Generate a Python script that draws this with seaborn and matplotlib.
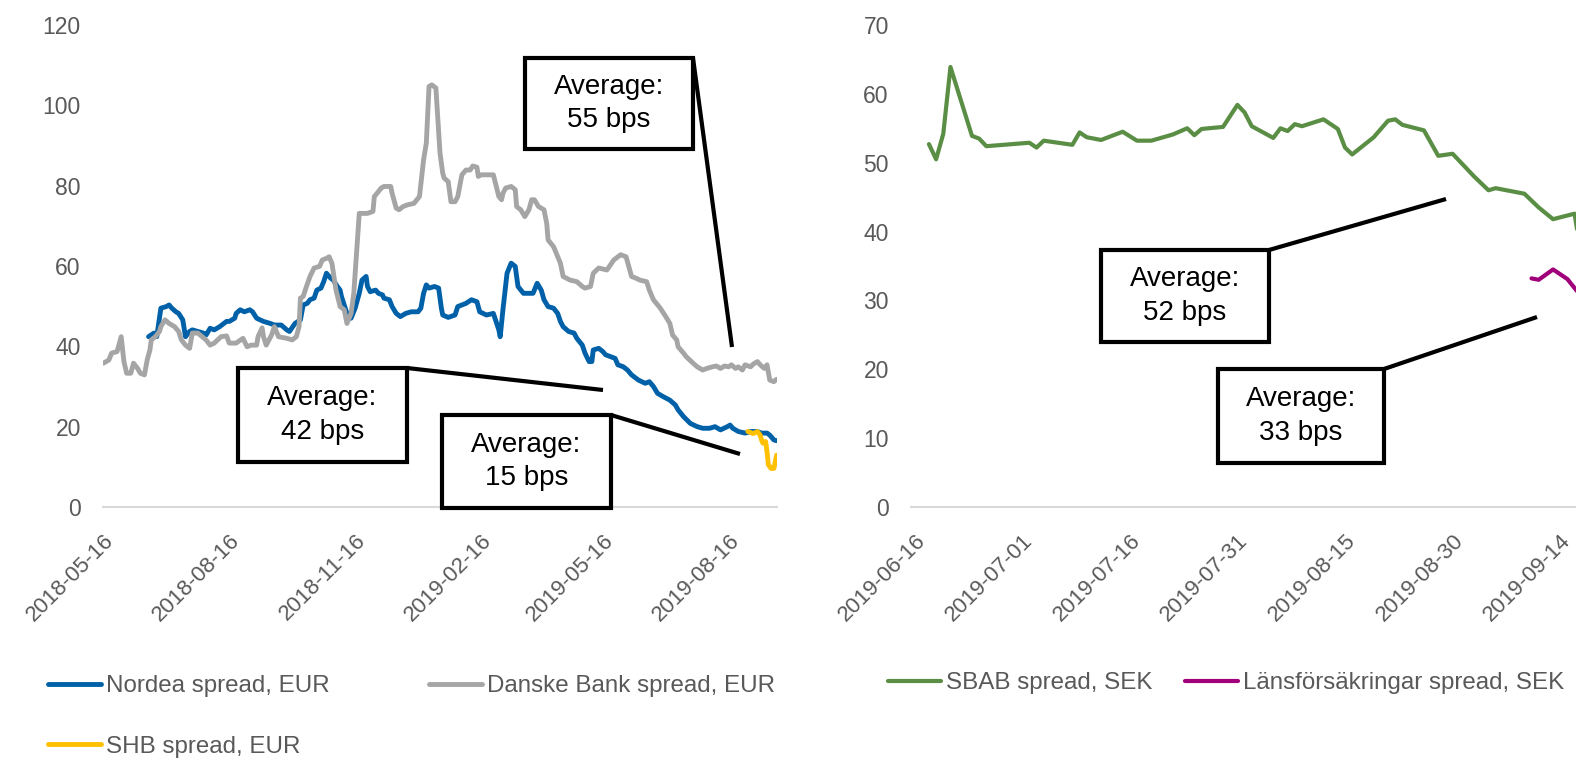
import pandas as pd
import matplotlib
matplotlib.use("Agg")
import matplotlib.pyplot as plt
import seaborn as sns
from matplotlib.patches import Rectangle
from matplotlib.lines import Line2D

# ---------------- data (left panel, days since 2018-05-16) ----------------
left_start = "2018-05-16"
nordea_day = [33, 37, 39, 42, 46, 48, 50, 53, 55, 58, 60, 63, 65, 69, 73, 75, 78, 81, 85, 90,
              92, 96, 97, 100, 103, 107, 109, 112, 117, 122, 125, 130, 134, 136, 140, 144, 146, 149, 151, 154,
              156, 159, 161, 163, 166, 168, 171, 173, 174, 178, 181, 184, 187, 189, 192, 193, 195, 199, 201, 204,
              205, 209, 211, 214, 217, 221, 225, 230, 232, 234, 236, 238, 242, 245, 247, 248, 252, 257, 259, 262,
              265, 269, 273, 275, 280, 285, 289, 290, 292, 295, 298, 301, 303, 307, 311, 314, 317, 320, 322, 325,
              329, 332, 334, 336, 340, 344, 346, 350, 352, 355, 357, 358, 362, 365, 367, 371, 374, 376, 380, 383,
              386, 391, 396, 399, 402, 405, 409, 414, 418, 420, 424, 429, 434, 438, 443, 447, 451, 456, 458, 460,
              464, 469, 473, 478, 481, 485, 487, 490, 492]
nordea_val = [42.4, 43.3, 42.4, 49.5, 49.9, 50.3, 49.5, 48.6, 48.2, 46.6, 42.4, 43.7, 44.1, 43.7, 43.3, 42.8, 44.5, 44.1, 44.9, 46.2,
              46.2, 47.0, 48.2, 49.1, 48.6, 49.1, 48.6, 47.0, 46.2, 45.7, 45.3, 45.3, 44.1, 43.7, 45.7, 46.6, 50.3, 50.7, 51.6, 52.0,
              54.0, 54.5, 56.1, 58.2, 57.0, 56.5, 54.9, 54.0, 52.4, 48.2, 47.0, 49.5, 53.2, 56.5, 57.4, 54.9, 53.6, 54.0, 53.2, 52.8,
              52.0, 51.6, 49.9, 48.2, 47.4, 48.2, 48.6, 48.6, 49.5, 53.2, 55.3, 54.5, 54.9, 54.5, 49.5, 47.8, 47.2, 47.8, 49.9, 50.3,
              50.7, 51.6, 51.1, 48.6, 47.8, 48.2, 44.1, 42.4, 49.1, 58.2, 60.7, 59.9, 54.9, 53.2, 53.2, 53.2, 55.7, 54.0, 51.6, 49.9,
              49.5, 48.2, 46.2, 44.9, 43.7, 43.3, 42.0, 40.3, 38.3, 36.2, 36.2, 39.1, 39.5, 38.7, 37.9, 37.4, 37.0, 35.4, 34.9, 34.1,
              32.9, 31.6, 30.8, 31.2, 30.0, 28.3, 27.5, 26.6, 25.4, 24.2, 22.5, 20.8, 20.0, 19.6, 19.6, 20.0, 19.2, 20.0, 20.4, 19.6,
              18.8, 18.4, 18.8, 18.8, 18.4, 18.4, 17.9, 16.7, 16.5]

danske_day = [0, 4, 6, 10, 13, 15, 17, 20, 22, 25, 27, 30, 32, 34, 35, 38, 41, 42, 45, 48,
              52, 55, 57, 60, 63, 65, 69, 75, 78, 81, 86, 90, 92, 97, 102, 105, 108, 112, 113, 116,
              117, 119, 123, 125, 128, 134, 138, 141, 143, 144, 146, 148, 151, 154, 158, 160, 163, 165, 167, 170,
              173, 176, 178, 181, 183, 187, 193, 197, 198, 200, 203, 205, 210, 211, 214, 216, 219, 222, 227, 231,
              234, 236, 238, 240, 243, 246, 248, 249, 252, 254, 257, 259, 262, 265, 268, 270, 273, 274, 276, 279,
              285, 289, 291, 292, 294, 298, 301, 302, 305, 308, 311, 313, 315, 318, 322, 324, 325, 329, 330, 334,
              336, 341, 346, 350, 352, 356, 358, 362, 368, 373, 376, 378, 382, 384, 386, 389, 392, 397, 399, 402,
              407, 411, 414, 416, 419, 420, 424, 426, 431, 434, 438, 441, 445, 448, 451, 454, 457, 459, 462, 464,
              467, 469, 473, 475, 478, 480, 483, 485, 487, 490, 492]
danske_val = [35.8, 36.6, 38.3, 38.7, 42.4, 36.2, 33.3, 33.3, 35.8, 34.5, 33.3, 32.9, 36.6, 39.1, 41.6, 42.4, 43.7, 44.9, 46.6, 45.7,
              44.9, 43.7, 41.6, 40.3, 39.5, 43.3, 43.3, 41.6, 40.3, 40.8, 42.4, 42.6, 40.8, 40.8, 42.0, 39.9, 40.3, 40.3, 42.4, 44.6,
              42.4, 40.3, 42.9, 44.9, 42.4, 42.0, 41.6, 42.4, 44.9, 52.0, 52.4, 54.5, 57.4, 59.5, 59.9, 61.5, 61.9, 62.3, 60.7, 54.0,
              49.9, 49.1, 45.7, 48.2, 53.2, 73.1, 73.1, 73.6, 77.3, 78.1, 79.4, 79.8, 79.8, 78.1, 74.4, 74.0, 74.8, 75.2, 75.6, 77.3,
              86.4, 90.6, 104.7, 105.1, 104.3, 88.1, 83.1, 81.9, 81.0, 76.0, 76.0, 77.3, 82.7, 83.9, 83.9, 84.9, 84.6, 82.3, 82.7, 82.7,
              82.7, 77.3, 76.5, 78.1, 79.4, 79.8, 79.0, 74.8, 74.0, 72.3, 74.0, 76.5, 76.5, 74.8, 74.0, 70.6, 66.5, 64.8, 64.0, 60.7,
              57.4, 56.5, 56.1, 54.9, 54.5, 54.9, 58.2, 59.5, 59.0, 61.5, 62.3, 62.8, 62.3, 59.9, 57.4, 57.0, 56.5, 56.1, 54.0, 51.6,
              49.5, 47.4, 45.7, 42.8, 41.6, 39.9, 38.3, 37.4, 35.8, 34.9, 34.1, 34.5, 34.9, 35.1, 34.5, 35.1, 34.9, 35.4, 34.5, 34.9,
              34.1, 35.4, 34.9, 35.6, 36.2, 35.4, 34.5, 35.4, 31.6, 31.2, 31.8]

shb_day = [471, 475, 478, 480, 481, 482, 484, 485, 486, 488, 490, 491, 492]
shb_val = [18.8, 18.3, 18.8, 17.9, 16.7, 15.9, 16.3, 13.8, 10.5, 9.6, 9.6, 11.2, 12.9]

left_ticks = ["2018-05-16", "2018-08-16", "2018-11-16", "2019-02-16", "2019-05-16", "2019-08-16"]

# ---------------- data (right panel, days since 2019-06-16) ----------------
right_start = "2019-06-16"
sbab_day = [2, 3, 4, 5, 8, 9, 10, 16, 17, 18, 22, 23, 24, 26, 29, 31, 33, 36, 38, 39,
            40, 43, 45, 46, 47, 50, 51, 52, 53, 54, 57, 59, 60, 61, 64, 66, 67, 68, 71, 73,
            75, 78, 80, 81, 85, 87, 89, 92, 93]
sbab_val = [52.7, 50.5, 54.2, 63.9, 53.9, 53.5, 52.4, 52.9, 52.2, 53.2, 52.6, 54.4, 53.7, 53.3, 54.5, 53.2, 53.2, 54.1, 55.0, 54.0,
            54.9, 55.2, 58.4, 57.3, 55.3, 53.6, 55.0, 54.6, 55.6, 55.3, 56.3, 54.9, 52.2, 51.2, 53.7, 56.1, 56.3, 55.5, 54.7, 51.0,
            51.3, 48.0, 46.0, 46.3, 45.5, 43.5, 41.8, 42.6, 36.0]
lf_day = [86, 87, 89, 91, 92, 93]
lf_val = [33.2, 33.0, 34.5, 33.1, 31.8, 30.5]

right_ticks = ["2019-06-16", "2019-07-01", "2019-07-16", "2019-07-31", "2019-08-15", "2019-08-30", "2019-09-14"]

left_labels = ["Nordea spread, EUR", "Danske Bank spread, EUR", "SHB spread, EUR"]
right_labels = ["SBAB spread, SEK", "Länsförsäkringar spread, SEK"]
avg_texts = ["Average:\n55 bps", "Average:\n42 bps", "Average:\n15 bps", "Average:\n52 bps", "Average:\n33 bps"]

# ---------------- style ----------------
C_NORDEA = "#0061A8"
C_DANSKE = "#A5A5A5"
C_SHB = "#FFC000"
C_SBAB = "#5A8E44"
C_LF = "#A0007A"
TXT = "#595959"

sns.set_theme(style="white")
plt.rcParams["font.family"] = ["Liberation Sans", "DejaVu Sans"]

W, H = 1576, 758
fig = plt.figure(figsize=(W / 100, H / 100), dpi=100)


def fx(x):
    return x / W


def fy(y):
    return 1 - y / H


axL = fig.add_axes([fx(103), fy(507), (777 - 103) / W, (507 - 25) / H])
axR = fig.add_axes([fx(911), fy(507), (1576 - 911) / W, (507 - 25) / H])


def dates(start, days):
    return pd.Timestamp(start) + pd.to_timedelta(days, unit="D")


sns.lineplot(x=dates(left_start, nordea_day), y=nordea_val, ax=axL, color=C_NORDEA,
             label=left_labels[0], legend=False)
sns.lineplot(x=dates(left_start, danske_day), y=danske_val, ax=axL, color=C_DANSKE,
             label=left_labels[1], legend=False)
sns.lineplot(x=dates(left_start, shb_day), y=shb_val, ax=axL, color=C_SHB,
             label=left_labels[2], legend=False)

sns.lineplot(x=dates(right_start, sbab_day), y=sbab_val, ax=axR, color=C_SBAB,
             label=right_labels[0], legend=False)
sns.lineplot(x=dates(right_start, lf_day), y=lf_val, ax=axR, color=C_LF,
             label=right_labels[1], legend=False)

for ax, lw in [(axL, 3.5), (axR, 3.0)]:
    for ln in ax.get_lines():
        ln.set_linewidth(lw)
        ln.set_solid_joinstyle("round")
        ln.set_solid_capstyle("round")

for ax, ymax, step in [(axL, 120, 20), (axR, 70, 10)]:
    ax.set_ylim(0, ymax)
    ax.set_yticks(range(0, ymax + 1, step))
    ax.set_xlabel("")
    ax.set_ylabel("")
    for s in ["top", "right", "left"]:
        ax.spines[s].set_visible(False)
    ax.spines["bottom"].set_color("#D9D9D9")
    ax.spines["bottom"].set_linewidth(1.5)
    ax.tick_params(axis="y", length=0, pad=16, labelsize=16.5, labelcolor=TXT)
    ax.tick_params(axis="x", length=0, pad=16.5, labelsize=16, labelcolor=TXT)
    ax.grid(False)
    ax.set_facecolor("white")

axL.set_xlim(pd.Timestamp(left_start) - pd.Timedelta(hours=7), pd.Timestamp(left_start) + pd.Timedelta(days=492.3))
axR.set_xlim(pd.Timestamp(right_start) - pd.Timedelta(hours=12), pd.Timestamp(right_start) + pd.Timedelta(days=92.2))

axL.set_xticks(pd.to_datetime(left_ticks))
axL.set_xticklabels(left_ticks, rotation=45, ha="right", va="top", rotation_mode="anchor")
axR.set_xticks(pd.to_datetime(right_ticks))
axR.set_xticklabels(right_ticks, rotation=45, ha="right", va="top", rotation_mode="anchor")

# legends
lL = axL.get_lines()
fig.legend([lL[0], lL[2], lL[1]], [left_labels[0], left_labels[2], left_labels[1]],
           loc="upper left", bbox_to_anchor=(fx(48), fy(675)), ncol=2, frameon=False,
           fontsize=17.4, labelcolor=TXT, handlelength=2.2, handletextpad=0.2,
           columnspacing=4.1, labelspacing=1.6, borderpad=0, borderaxespad=0)
lR = axR.get_lines()
fig.legend([lR[0], lR[1]], right_labels,
           loc="upper left", bbox_to_anchor=(fx(888), fy(672)), ncol=2, frameon=False,
           fontsize=17.4, labelcolor=TXT, handlelength=2.2, handletextpad=0.2,
           columnspacing=1.35, borderpad=0, borderaxespad=0)

# annotation boxes (pixel layout) with connectors
boxes = [
    (525, 58, 693, 149, (732, 347)),
    (238, 368, 407, 462, (603, 390)),
    (442, 415, 611, 508, (740, 454)),
    (1101, 250, 1269, 342, (1446, 199)),
    (1218, 369, 1384, 463, (1537, 317)),
]
for (x0, y0, x1, y1, (tx, ty)), txt in zip(boxes, avg_texts):
    fig.add_artist(Line2D([fx(x1), fx(tx)], [fy(y0), fy(ty)], transform=fig.transFigure,
                          color="black", lw=3, zorder=5, solid_capstyle="butt"))
    fig.add_artist(Rectangle((fx(x0), fy(y1)), fx(x1) - fx(x0), fy(y0) - fy(y1),
                             transform=fig.transFigure, facecolor="white", edgecolor="black",
                             lw=3, zorder=6, joinstyle="miter"))
    fig.text(fx((x0 + x1) / 2), fy((y0 + y1) / 2), txt, ha="center", va="center",
             fontsize=20, linespacing=1.38, color="black", zorder=7)

fig.savefig("out.png", dpi=100, facecolor="white")
